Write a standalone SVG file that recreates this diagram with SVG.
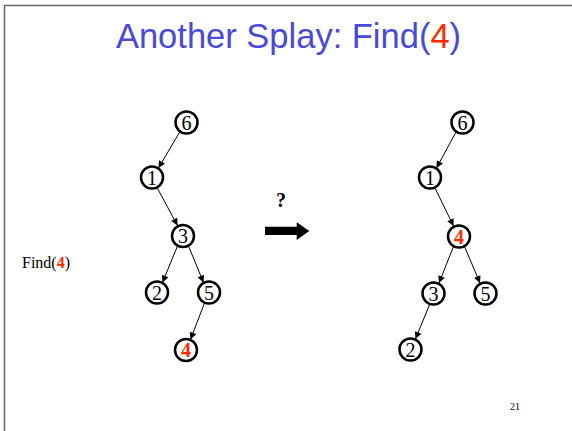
<svg xmlns="http://www.w3.org/2000/svg" width="572" height="431" viewBox="0 0 572 431">
  <style>
    .node circle { fill: #ffffff; stroke: #000000; stroke-width: 2.5; }
    .node text { font-family: "Liberation Serif", "Times New Roman", serif; font-size: 20px; text-anchor: middle; fill: #000000; }
    .node text.hot { fill: #ff2a00; font-weight: bold; }
    .edge { stroke: #000000; stroke-width: 1; fill: none; marker-end: url(#tip); }
  </style>
  <defs>
    <marker id="tip" viewBox="0 0 10 10" refX="10" refY="5" markerWidth="8" markerHeight="7" markerUnits="userSpaceOnUse" orient="auto">
      <path d="M0,0 L10,5 L0,10 z" fill="#000000"/>
    </marker>
  </defs>

  <rect width="572" height="431" fill="#ffffff"/>
  <!-- slide frame -->
  <path d="M4.5,431 V5.5 H572" fill="none" stroke="#6a6a6a" stroke-width="1.6"/>

  <text x="288.5" y="48" font-family="'Liberation Sans', Arial, sans-serif" font-size="34.5" fill="#4a4ad8" text-anchor="middle">Another Splay: Find(<tspan fill="#ff2a00">4</tspan>)</text>

  <text x="22" y="268" font-family="'Liberation Serif', 'Times New Roman', serif" font-size="16" fill="#000000">Find(<tspan fill="#ff2a00" font-weight="bold">4</tspan>)</text>

  <text x="281" y="207" font-family="'Liberation Serif', 'Times New Roman', serif" font-size="20" font-weight="bold" text-anchor="middle" fill="#000000">?</text>
  <path d="M265,226.7 H296.7 V222.3 L309.3,231 L296.7,240 V235 H265 z" fill="#000000"/>

  <text x="515" y="410" font-family="'Liberation Serif', 'Times New Roman', serif" font-size="10" fill="#000000" text-anchor="middle">21</text>

  <g id="connectors">
    <!-- before -->
    <line class="edge" x1="180" y1="131.5" x2="158.5" y2="168"/>
    <line class="edge" x1="157" y1="187.5" x2="177.5" y2="225.5"/>
    <line class="edge" x1="177.5" y1="246" x2="162.5" y2="282.5"/>
    <line class="edge" x1="188.5" y1="246" x2="203.5" y2="282.5"/>
    <line class="edge" x1="204.5" y1="303" x2="190.5" y2="339.5"/>
    <!-- after -->
    <line class="edge" x1="456" y1="132" x2="436.5" y2="168"/>
    <line class="edge" x1="435" y1="188" x2="453.5" y2="226"/>
    <line class="edge" x1="453.5" y1="246.5" x2="439" y2="283"/>
    <line class="edge" x1="464.5" y1="246.5" x2="480" y2="283"/>
    <line class="edge" x1="430" y1="303.5" x2="415.5" y2="339"/>
  </g>

  <!-- tree before splaying -->
  <g id="a6" class="node"><circle cx="186.5" cy="122.5" r="11"/><text x="186.5" y="129.5">6</text></g>
  <g id="a1" class="node"><circle cx="152" cy="177.5" r="11"/><text x="152" y="184.5">1</text></g>
  <g id="a3" class="node"><circle cx="183" cy="236" r="11"/><text x="183" y="243">3</text></g>
  <g id="a2" class="node"><circle cx="157" cy="292.5" r="11"/><text x="157" y="299.5">2</text></g>
  <g id="a5" class="node"><circle cx="209" cy="292.5" r="11"/><text x="209" y="299.5">5</text></g>
  <g id="a4" class="node"><circle cx="186" cy="350" r="11"/><text class="hot" x="186" y="357">4</text></g>

  <!-- tree after splaying -->
  <g id="b6" class="node"><circle cx="462.5" cy="122.5" r="11"/><text x="462.5" y="129.5">6</text></g>
  <g id="b1" class="node"><circle cx="430" cy="177.5" r="11"/><text x="430" y="184.5">1</text></g>
  <g id="b4" class="node"><circle cx="459" cy="236.5" r="11"/><text class="hot" x="459" y="243.5">4</text></g>
  <g id="b3" class="node"><circle cx="433.5" cy="293.5" r="11"/><text x="433.5" y="300.5">3</text></g>
  <g id="b5" class="node"><circle cx="485.5" cy="293.5" r="11"/><text x="485.5" y="300.5">5</text></g>
  <g id="b2" class="node"><circle cx="410.5" cy="349.5" r="11"/><text x="410.5" y="356.5">2</text></g>
</svg>
